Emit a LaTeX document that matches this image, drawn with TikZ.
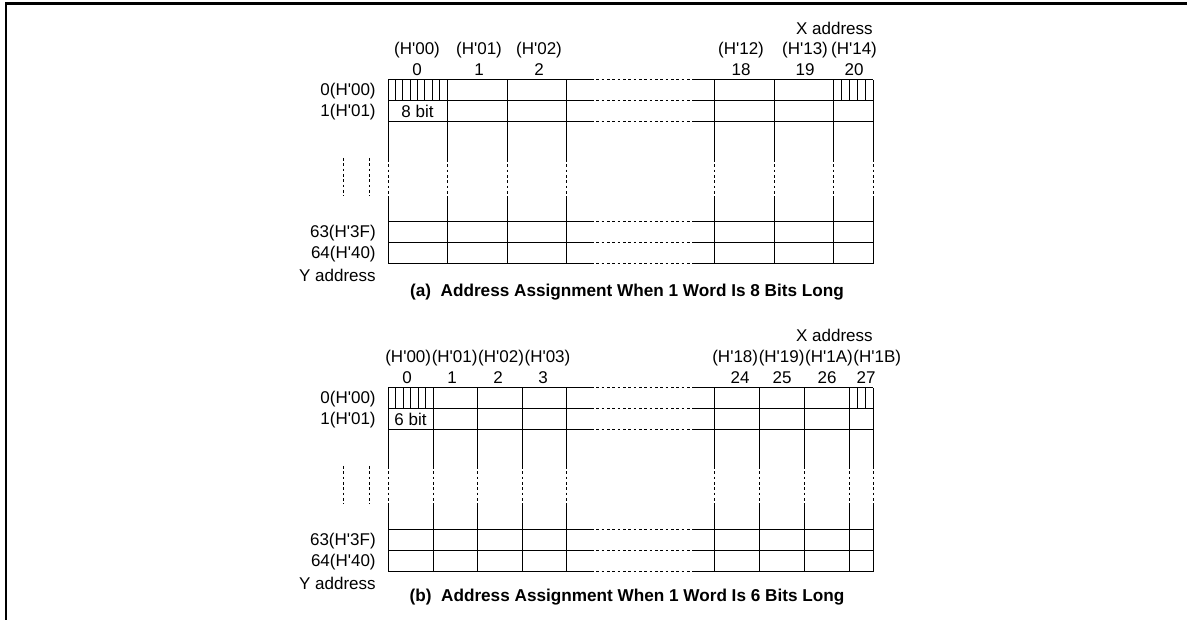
\documentclass[tikz,border=0pt]{standalone}
\usepackage{fontspec}
\setmainfont{Liberation Sans}
\usetikzlibrary{positioning}
\tikzset{
    cell-line/.style={
        draw=black,
        line width=0.6pt,
    },
    gap-line/.style={
        draw=black,
        line width=0.6pt,
        dash pattern=on 1.6pt off 1.6pt,
    },
    frame-line/.style={
        draw=black,
        line width=1.3pt,
    },
    head/.style={
        inner sep=0pt,
        font=\fontsize{10.2}{12}\selectfont,
    },
    row-head/.style={
        head,
        anchor=east,
    },
    caption/.style={
        inner sep=0pt,
        font=\fontsize{10.3}{12}\selectfont\bfseries,
    },
}

\begin{document}
\begin{tikzpicture}[x=0.6pt,y=-0.6pt]
    \useasboundingbox (0,0) rectangle (1187,620);
    \draw[frame-line] (6,620) -- (6,3.5) -- (1187,3.5);

    % (a) 8 bit words
    \foreach \y in {80,101,122,222,243,264} {
        \draw[cell-line] (388,\y) -- (591,\y);
        \draw[gap-line] (591,\y) -- (692,\y);
        \draw[cell-line] (692,\y) -- (873,\y);
    }
    \foreach \x in {388,447,507,566,714,774,833,873} {
        \draw[cell-line] (\x,80) -- (\x,159);
        \draw[gap-line] (\x,159) -- (\x,198);
        \draw[cell-line] (\x,198) -- (\x,264);
    }
    \foreach \x in {343,369}
        \draw[gap-line] (\x,158) -- (\x,196);
    \foreach \k in {1,...,7}
        \draw[cell-line] ({388+\k*59/8},80) -- ({388+\k*59/8},101);
    \foreach \k in {1,...,4}
        \draw[cell-line] ({833+\k*8},80) -- ({833+\k*8},101);

    \node[head, anchor=east] (xa) at (873,28) {X address};
    \foreach \x/\h/\n [count=\i] in {417/00/0, 479/01/1, 539/02/2,
                                     741/12/18, 805/13/19, 854/14/20} {
        \node[head] (ha\i) at (\x,50) {(H\textquotesingle\h)};
        \node[head] (na\i) at (\x,70) {\n};
    }
    \node[row-head] (ya1) at (376,91) {0(H\textquotesingle00)};
    \node[row-head] (ya2) at (376,112) {1(H\textquotesingle01)};
    \node[row-head] (ya3) at (376,233) {63(H\textquotesingle3F)};
    \node[row-head] (ya4) at (376,254) {64(H\textquotesingle40)};
    \node[row-head] (ya5) at (376,275) {Y address};
    \node[head] (bita) at (417.5,111.5) {8 bit};
    \node[caption] (capa) at (627,292)
        {(a)\ \ Address Assignment When 1 Word Is 8 Bits Long};

    % (b) 6 bit words
    \foreach \y in {388,409,430,530,551,572} {
        \draw[cell-line] (388,\y) -- (591,\y);
        \draw[gap-line] (591,\y) -- (692,\y);
        \draw[cell-line] (692,\y) -- (873,\y);
    }
    \foreach \x in {388,433,477,522,566,714,759,804,849,873} {
        \draw[cell-line] (\x,388) -- (\x,466);
        \draw[gap-line] (\x,466) -- (\x,505);
        \draw[cell-line] (\x,505) -- (\x,572);
    }
    \foreach \x in {343,369}
        \draw[gap-line] (\x,466) -- (\x,504);
    \foreach \k in {1,...,5}
        \draw[cell-line] ({388+\k*45/6},388) -- ({388+\k*45/6},409);
    \foreach \k in {1,2}
        \draw[cell-line] ({849+\k*8},388) -- ({849+\k*8},409);

    \node[head, anchor=east] (xb) at (873,335) {X address};
    \node[head, anchor=west] (hb1) at (385,358) {(H\textquotesingle00)};
    \node[head, right=0pt of hb1] (hb2) {(H\textquotesingle01)};
    \node[head, right=0pt of hb2] (hb3) {(H\textquotesingle02)};
    \node[head, right=0pt of hb3] (hb4) {(H\textquotesingle03)};
    \node[head, anchor=west] (hb5) at (712,358) {(H\textquotesingle18)};
    \node[head, right=0pt of hb5] (hb6) {(H\textquotesingle19)};
    \node[head, right=0pt of hb6] (hb7) {(H\textquotesingle1A)};
    \node[head, right=0pt of hb7] (hb8) {(H\textquotesingle1B)};
    \foreach \x/\n [count=\i] in {407/0, 452/1, 498/2, 543/3,
                                  740/24, 782/25, 827/26, 866/27}
        \node[head] (nb\i) at (\x,378) {\n};
    \node[row-head] (yb1) at (376,399) {0(H\textquotesingle00)};
    \node[row-head] (yb2) at (376,420) {1(H\textquotesingle01)};
    \node[row-head] (yb3) at (376,541) {63(H\textquotesingle3F)};
    \node[row-head] (yb4) at (376,562) {64(H\textquotesingle40)};
    \node[row-head] (yb5) at (376,583) {Y address};
    \node[head] (bitb) at (410.5,419.5) {6 bit};
    \node[caption] (capb) at (627,597)
        {(b)\ \ Address Assignment When 1 Word Is 6 Bits Long};
\end{tikzpicture}
\end{document}
